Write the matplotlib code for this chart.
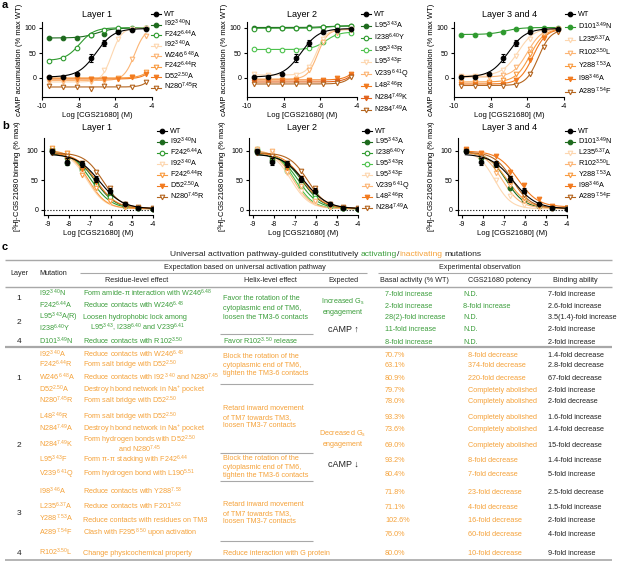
import numpy as np
import matplotlib
matplotlib.use("Agg")
import matplotlib.pyplot as plt

plt.rcParams['font.family'] = ['Liberation Sans', 'DejaVu Sans']
plt.rcParams['mathtext.default'] = 'regular'
plt.rcParams['axes.unicode_minus'] = False

W, H = 617, 561

# ---- data: cAMP accumulation (panel a) ----
camp_logc = [-9.6, -8.85, -8.1, -7.35, -6.6, -5.85, -5.1, -4.35]
wt_camp = [2, 3, 8, 40, 70, 93, 97, 99]
wt_camp_err = [1, 1, 2, 8, 6, 3, 2, 1]

l1_camp_labels = ['WT', 'I92$^{3.40}$N', 'F242$^{6.44}$A', 'I92$^{3.40}$A',
                  'W246$^{6.48}$A', 'F242$^{6.44}$R', 'D52$^{2.50}$A', 'N280$^{7.45}$R']
l1_camp = [wt_camp,
           [80, 80, 80, 86, 88, 95, 99, 100],
           [35, 40, 60, 87, 97, 100, 100, 100],
           [-8, -8, -8, -8, 17, 78, 98, 100],
           [-5, -5, -5, -5, -5, -2, 38, 85],
           [1, 1, 0, -1, -1, 0, 2, 13],
           [-2, -2, -2, -2, -2, -1, 2, 8],
           [-15, -17, -18, -22, -16, -18, -18, -8]]
# fitted 4PL: bottom, top, logEC50, hill
l1_camp_fit = [(2, 99, -7.05, 0.9), (80, 100, -7.0, 1.0), (35, 100.5, -7.95, 1.1),
               (-8, 100, -6.2, 1.6), (-5, 100, -4.95, 1.5), (0, 100, -3.55, 1.2),
               (-2, 100, -3.5, 1.2), (-18, 100, -3.6, 1.5)]

l2_camp_labels = ['WT', 'L95$^{3.43}$A', 'I238$^{6.40}$Y', 'L95$^{3.43}$R', 'L95$^{3.43}$F',
                  'V239$^{6.41}$Q', 'L48$^{2.46}$R', 'N284$^{7.49}$K', 'N284$^{7.49}$A']
l2_camp = [wt_camp,
           [101, 101, 101, 101, 102, 103, 104, 104],
           [99, 99, 100, 100, 100, 102, 105, 105],
           [58, 57, 57, 57, 60, 72, 87, 91],
           [8, 6, 5, 7, 22, 78, 94, 98],
           [-2, -2, -3, -2, 16, 72, 91, 96],
           [-3, -4, -4, -4, -3, -3, 0, 9],
           [-8, -8, -8, -9, -8, -8, -5, 5],
           [-12, -12, -12, -12, -12, -11, -10, 3]]
l2_camp_fit = [(2, 99, -7.05, 0.9), (101, 104, -5.8, 1.0), (99.5, 105, -5.5, 1.0),
               (57, 92, -5.7, 1.2), (6, 98, -6.2, 1.6), (-2, 97, -6.15, 1.6),
               (-4, 100, -3.6, 1.2), (-8, 100, -3.6, 1.2), (-12, 100, -3.7, 1.3)]

l3_camp_labels = ['WT', 'D101$^{3.49}$N', 'L235$^{6.37}$A', 'R102$^{3.50}$L',
                  'Y288$^{7.53}$A', 'I98$^{3.46}$A', 'A289$^{7.54}$F']
l3_camp = [wt_camp,
           [87, 87, 88, 93, 98, 100, 101, 101],
           [5, 5, 6, 16, 45, 78, 92, 99],
           [2, 2, 2, 6, 22, 58, 88, 98],
           [-8, -8, -8, -4, 8, 48, 83, 96],
           [-12, -12, -12, -11, -3, 36, 80, 94],
           [-15, -15, -15, -15, -13, 8, 63, 92]]
l3_camp_fit = [(2, 99, -7.05, 0.9), (87, 101, -7.2, 1.0), (5, 100, -6.5, 1.0),
               (2, 100, -6.0, 1.1), (-8, 99, -5.85, 1.1), (-12, 98, -5.7, 1.2),
               (-15, 97, -5.4, 1.3)]

# ---- data: radioligand binding (panel b) ----
bind_logc = [-8.8, -8.1, -7.4, -6.7, -6.05, -5.35, -4.7, -4.0]
wt_bind = [100, 82, 78, 52, 33, 10, 3, 1]
wt_bind_err = [4, 6, 5, 5, 4, 2, 1, 1]

l1_bind_labels = ['WT', 'I92$^{3.40}$N', 'F242$^{6.44}$A', 'I92$^{3.40}$A',
                  'F242$^{6.44}$R', 'D52$^{2.50}$A', 'N280$^{7.45}$R']
l1_bind = [wt_bind,
           [100, 80, 72, 47, 27, 8, 3, 2],
           [103, 88, 68, 42, 22, 6, 3, 2],
           [98, 97, 62, 35, 14, 5, 3, 2],
           [105, 96, 60, 37, 15, 5, 3, 2],
           [100, 86, 70, 47, 30, 8, 4, 2],
           [97, 92, 80, 64, 38, 10, 5, 3]]
# top, bottom, logIC50, hill
l1_bind_fit = [(95, 2, -6.55, 0.8), (96, 2, -6.75, 0.9), (100, 2, -6.95, 0.9),
               (100, 2, -7.15, 1.0), (102, 2, -7.1, 1.0), (97, 2, -6.7, 0.9),
               (97, 3, -6.4, 1.0)]

l2_bind_labels = ['WT', 'L95$^{3.43}$A', 'I238$^{6.40}$Y', 'L95$^{3.43}$R', 'L95$^{3.43}$F',
                  'V239$^{6.41}$Q', 'L48$^{2.46}$R', 'N284$^{7.49}$A']
l2_bind = [wt_bind,
           [98, 85, 76, 50, 30, 9, 3, 2],
           [102, 90, 72, 45, 25, 7, 3, 2],
           [104, 92, 66, 40, 20, 6, 3, 2],
           [100, 97, 62, 33, 12, 5, 3, 2],
           [104, 100, 65, 40, 16, 5, 3, 2],
           [99, 90, 72, 55, 32, 9, 4, 2],
           [97, 92, 80, 66, 38, 10, 5, 3]]
l2_bind_fit = [(95, 2, -6.55, 0.8), (95, 2, -6.65, 0.9), (99, 2, -6.85, 0.9),
               (100, 2, -7.0, 1.0), (101, 2, -7.2, 1.0), (102, 2, -7.1, 1.0),
               (97, 2, -6.6, 0.9), (97, 3, -6.4, 1.0)]

l3_bind_labels = ['WT', 'D101$^{3.49}$N', 'L235$^{6.37}$A', 'R102$^{3.50}$L',
                  'Y288$^{7.53}$A', 'I98$^{3.46}$A', 'A289$^{7.54}$F']
l3_bind = [wt_bind,
           [100, 88, 74, 37, 17, 6, 3, 3],
           [102, 96, 50, 23, 8, 4, 2, 2],
           [101, 95, 63, 42, 15, 6, 3, 3],
           [100, 92, 70, 47, 20, 7, 4, 3],
           [103, 96, 92, 64, 43, 18, 6, 4],
           [100, 90, 78, 55, 25, 8, 4, 3]]
l3_bind_fit = [(95, 2, -6.55, 0.8), (98, 3, -6.9, 1.0), (100, 2, -7.45, 1.1),
               (100, 3, -7.1, 1.0), (99, 3, -6.85, 0.9), (100, 5, -6.35, 0.9),
               (98, 3, -6.6, 1.0)]

# ---- data: table (panel c) ----
green_layer = ['1', '2', '4']
green_mut = ['I92$^{3.40}$N', 'F242$^{6.44}$A', 'L95$^{3.43}$A(R)', 'I238$^{6.40}$Y', 'D101$^{3.49}$N']
green_residue = ['Form amide-π interaction with W246$^{6.48}$',
                 'Reduce contacts with W246$^{6.48}$',
                 'Loosen hydrophobic lock among',
                 'L95$^{3.43}$, I238$^{6.40}$ and V239$^{6.41}$',
                 'Reduce contacts with R102$^{3.50}$']
green_basal = ['7-fold increase', '2-fold increase', '28(2)-fold increase', '11-fold increase', '8-fold increase']
green_potency = ['N.D.', '8-fold increase', 'N.D.', 'N.D.', 'N.D.']
green_binding = ['7-fold increase', '2.6-fold increase', '3.5(1.4)-fold increase', '2-fold increase', '2-fold increase']

orange_layer = ['1', '2', '3', '4']
orange_mut = ['I92$^{3.40}$A', 'F242$^{6.44}$R', 'W246$^{6.48}$A', 'D52$^{2.50}$A', 'N280$^{7.45}$R',
              'L48$^{2.46}$R', 'N284$^{7.49}$A', 'N284$^{7.49}$K', 'L95$^{3.43}$F', 'V239$^{6.41}$Q',
              'I98$^{3.46}$A', 'L235$^{6.37}$A', 'Y288$^{7.53}$A', 'A289$^{7.54}$F', 'R102$^{3.50}$L']
orange_residue = ['Reduce contacts with W246$^{6.48}$',
                  'Form salt bridge with D52$^{2.50}$',
                  'Reduce contacts with I92$^{3.40}$ and N280$^{7.45}$',
                  'Destroy hbond network in Na$^{+}$ pocket',
                  'Form salt bridge with D52$^{2.50}$',
                  'Form salt bridge with D52$^{2.50}$',
                  'Destroy hbond network in Na$^{+}$ pocket',
                  'Form hydrogen bonds with D52$^{2.50}$\nand N280$^{7.45}$',
                  'Form π-π stacking with F242$^{6.44}$',
                  'Form hydrogen bond with L190$^{5.51}$',
                  'Reduce contacts with Y288$^{7.53}$',
                  'Reduce contacts with F201$^{5.62}$',
                  'Reduce contacts with residues on TM3',
                  'Clash with F295$^{8.50}$ upon activation',
                  'Change physicochemical property']
orange_basal = ['70.7%', '63.1%', '80.9%', '79.7%', '78.0%', '93.3%', '73.6%', '69.0%',
                '93.2%', '80.4%', '71.8%', '71.1%', '102.6%', '76.0%', '80.0%']
orange_potency = ['8-fold decrease', '374-fold decrease', '220-fold decrease', 'Completely abolished',
                  'Completely abolished', 'Completely abolished', 'Completely abolished',
                  'Completely abolished', '8-fold decrease', '7-fold decrease', '23-fold decrease',
                  '4-fold decrease', '16-fold decrease', '60-fold decrease', '10-fold decrease']
orange_binding = ['1.4-fold decrease', '2.8-fold decrease', '67-fold decrease', '2-fold increase',
                  '2-fold decrease', '1.6-fold increase', '1.4-fold decrease', '15-fold decrease',
                  '1.4-fold increase', '5-fold increase', '2.5-fold decrease', '1.5-fold increase',
                  '2-fold increase', '4-fold increase', '9-fold increase']
helix_green = ['Favor the rotation of the\ncytoplasmic end of TM6,\nloosen the TM3-6 contacts',
               'Favor R102$^{3.50}$ release']
helix_orange = ['Block the rotation of the\ncytoplasmic end of TM6,\ntighten the TM3-6 contacts',
                'Retard inward movement\nof TM7 towards TM3,\nloosen TM3-7 contacts',
                'Block the rotation of the\ncytoplasmic end of TM6,\ntighten the TM3-6 contacts',
                'Retard inward movement\nof TM7 towards TM3,\nloosen TM3-7 contacts',
                'Reduce interaction with G protein']

# ---- styles ----
BLACK = '#000000'
DKGREEN = '#1d6a1d'
GREEN = '#2e9a2e'
LTGREEN = '#4cc24c'
PALE = '#fdd7b0'
LTOR = '#fcb575'
ORANGE = '#f99b40'
DKOR = '#f27a1e'
REDOR = '#e2621b'
BROWN = '#b4651f'
TXT_G = '#3c9e3c'
TXT_O = '#f5a23a'
TXT_K = '#222222'

# (color, marker, filled)
s_wt = (BLACK, 'o', True)
l1_styles = [s_wt, (DKGREEN, 'o', True), (GREEN, 'o', False), (PALE, 'v', False),
             (LTOR, 'v', False), (ORANGE, 'v', False), (DKOR, 'v', True), (BROWN, 'v', False)]
l2_styles = [s_wt, (DKGREEN, 'o', True), (GREEN, 'o', False), (LTGREEN, 'o', False),
             (PALE, 'v', False), (LTOR, 'v', False), (DKOR, 'v', True), (REDOR, 'v', True),
             (BROWN, 'v', False)]
l3_styles = [s_wt, (GREEN, 'o', True), (PALE, 'v', False), (LTOR, 'v', False),
             (ORANGE, 'v', False), (DKOR, 'v', True), (BROWN, 'v', False)]
l1b_styles = [s_wt, (DKGREEN, 'o', True), (GREEN, 'o', False), (PALE, 'v', False),
              (ORANGE, 'v', False), (DKOR, 'v', True), (BROWN, 'v', False)]
l2b_styles = [s_wt, (DKGREEN, 'o', True), (GREEN, 'o', False), (LTGREEN, 'o', False),
              (PALE, 'v', False), (LTOR, 'v', False), (DKOR, 'v', True), (BROWN, 'v', False)]
l3b_styles = [s_wt, (DKGREEN, 'o', True), (PALE, 'v', False), (LTOR, 'v', False),
              (ORANGE, 'v', False), (DKOR, 'v', True), (BROWN, 'v', False)]

MS = 3.3
fig = plt.figure(figsize=(W / 100, H / 100), dpi=100)


def px_axes(x0, x1, y0, y1):
    return fig.add_axes([x0 / W, 1 - y1 / H, (x1 - x0) / W, (y1 - y0) / H])


def style_ax(ax):
    for s in ['top', 'right']:
        ax.spines[s].set_visible(False)
    for s in ['left', 'bottom']:
        ax.spines[s].set_linewidth(0.8)
    ax.tick_params(length=2.5, width=0.8, labelsize=5, pad=1.5)


def draw_panel(ax, logc, values, fits, styles, kind, err):
    xs = np.linspace(logc[0] - 0.05, logc[-1] + 0.02, 200)
    order = list(range(1, len(values))) + [0]
    for i in order:
        c, m, f = styles[i]
        if kind == 'camp':
            b, t, ec, h = fits[i]
            ys = b + (t - b) / (1 + 10 ** ((ec - xs) * h))
        else:
            t, b, ec, h = fits[i]
            ys = b + (t - b) / (1 + 10 ** ((xs - ec) * h))
        z = 5 if i == 0 else 3
        ax.plot(xs, ys, color=c, lw=0.8, zorder=z)
        ax.errorbar(logc, values[i], yerr=err if i == 0 else None, fmt=m, color=c,
                    ms=MS, mew=0.8, mfc=c if f else 'white', elinewidth=0.8,
                    capsize=1.2, zorder=z + 1)
    style_ax(ax)


# panel a
a_rects = [(42, 152, 22, 97), (247, 357, 22, 97), (454, 564, 22, 97)]
a_sets = [(l1_camp, l1_camp_fit, l1_styles), (l2_camp, l2_camp_fit, l2_styles),
          (l3_camp, l3_camp_fit, l3_styles)]
for rect, (vals, fits, sts) in zip(a_rects, a_sets):
    ax = px_axes(*rect)
    draw_panel(ax, camp_logc, vals, fits, sts, 'camp', wt_camp_err)
    ax.set_xlim(-10, -4)
    ax.set_ylim(-38, 112)
    ax.set_xticks([-10, -8, -6, -4])
    ax.set_yticks([0, 50, 100])
    ax.set_xlabel('Log [CGS21680] (M)', fontsize=5.5, labelpad=2)
    ax.set_ylabel('cAMP accumulation (% max WT)', fontsize=5.5, labelpad=1)

# panel b
b_rects = [(44, 153, 138, 215), (249, 358, 138, 215), (458, 567, 138, 215)]
b_sets = [(l1_bind, l1_bind_fit, l1b_styles), (l2_bind, l2_bind_fit, l2b_styles),
          (l3_bind, l3_bind_fit, l3b_styles)]
for rect, (vals, fits, sts) in zip(b_rects, b_sets):
    ax = px_axes(*rect)
    ax.axhline(0, color='k', ls=':', lw=0.8, zorder=1)
    draw_panel(ax, bind_logc, vals, fits, sts, 'bind', wt_bind_err)
    ax.set_xlim(-9.2, -4)
    ax.set_ylim(-8.5, 122)
    ax.set_xticks([-9, -8, -7, -6, -5, -4])
    ax.set_yticks([0, 50, 100])
    ax.set_xlabel('Log [CGS21680] (M)', fontsize=5.5, labelpad=2)
    ax.set_ylabel('[$^{3}$H]-CGS21680 binding (% max)', fontsize=5.5, labelpad=1)

# overlay in pixel coordinates for legends, titles and table
tax = fig.add_axes([0, 0, 1, 1])
tax.set_xlim(0, W)
tax.set_ylim(H, 0)
tax.axis('off')


def legend(xm, y0, step, styles, labels):
    for k, ((c, m, f), lab) in enumerate(zip(styles, labels)):
        y = y0 + k * step
        tax.plot([xm - 5, xm + 5], [y, y], color=c, lw=0.8)
        tax.plot([xm], [y], marker=m, color=c, ms=MS, mew=0.8, mfc=c if f else 'white')
        tax.text(xm + 8, y + 2, lab, fontsize=5.2, va='baseline')


legend(156, 14, 10.5, l1_styles, l1_camp_labels)
legend(366, 14, 12, l2_styles, l2_camp_labels)
legend(570, 14, 13, l3_styles, l3_camp_labels)
legend(162, 131, 11, l1b_styles, l1_bind_labels)
legend(367, 131, 11, l2b_styles, l2_bind_labels)
legend(570, 131, 11, l3b_styles, l3_bind_labels)

for x, t in [(97, 'Layer 1'), (302, 'Layer 2'), (510, 'Layer 3 and 4')]:
    tax.text(x, 14, t, fontsize=6.5, ha='center', va='center')
    tax.text(x, 127, t, fontsize=6.5, ha='center', va='center')
for y, l in [(5, 'a'), (126, 'b'), (247, 'c')]:
    tax.text(2, y, l, fontsize=8, fontweight='bold', va='center')

# table title in pieces
renderer = fig.canvas.get_renderer()
parts = [('Universal activation pathway-guided constitutively', TXT_K, 2.3),
         ('activating', TXT_G, 0), ('/', TXT_K, 0), ('inactivating', TXT_O, 2.3),
         ('mutations', TXT_K, 0)]
xp = 170
for s, c, gap in parts:
    t = tax.text(xp, 256, s, color=c, fontsize=6.1, va='baseline')
    bb = t.get_window_extent(renderer)
    xp = tax.transData.inverted().transform((bb.x1, bb.y0))[0] + gap

TS = 5.2
GRAY = '#a8a8a8'


def tt(x, y, s, color=TXT_K, ha='left', size=TS):
    tax.text(x, y + 2, s, color=color, ha=ha, va='baseline', fontsize=size)


def hline(x0, x1, y, lw=0.8, color=GRAY):
    tax.plot([x0, x1], [y, y], color=color, lw=lw, solid_capstyle='butt')


hline(5, 612, 260, 1.0)
hline(80, 367, 273)
hline(378, 612, 273)
hline(5, 612, 287, 1.0)
hline(5, 612, 347, 1.6)
hline(5, 612, 560, 1.2)
for y in [334, 384, 453, 481, 541]:
    hline(220, 313, y, 0.8)

tt(245, 267, 'Expectation based on universal activation pathway', ha='center')
tt(480, 267, 'Experimental observation', ha='center')
tt(19, 273, 'Layer', ha='center')
tt(39, 273, 'Mutation')
tt(137, 280, 'Residue-level effect', ha='center')
tt(270, 280, 'Helix-level effect', ha='center')
tt(343, 280, 'Expected', ha='center')
tt(380, 280, 'Basal activity (% WT)')
tt(468, 280, 'CGS21680 potency')
tt(553, 280, 'Binding ability')

# green rows
g_y = [294, 306, 317, 329, 342]
for i, y in enumerate(g_y):
    tt(39, y, green_mut[i], TXT_G)
    tt(90 if i == 3 else 83, y, green_residue[i], TXT_G)
    tt(385, y, green_basal[i], TXT_G)
    tt(463, y, green_potency[i], TXT_G)
    tt(548, y, green_binding[i], TXT_K)
for lab, y in zip(green_layer, [298, 322, 341]):
    tt(19, y, lab, TXT_K, ha='center', size=6)
for j, line in enumerate(helix_green[0].split('\n')):
    tt(223, 298 + 9.5 * j, line, TXT_G)
tt(223, 342, helix_green[1], TXT_G)
tt(343, 302, 'Increased G$_{s}$', TXT_G, ha='center')
tt(343, 312, 'engagement', TXT_G, ha='center')
tt(343, 330, 'cAMP ↑', TXT_K, ha='center', size=6.5)

# orange rows
o_y = [355, 365, 378, 390, 401, 417, 429, 445, 460, 474, 492, 507, 520, 534, 553]
for i, y in enumerate(o_y):
    tt(39, y, orange_mut[i], TXT_O)
    lines = orange_residue[i].split('\n')
    if len(lines) == 1:
        tt(83, y, lines[0], TXT_O)
    else:
        tt(83, y - 5, lines[0], TXT_O)
        tt(118, y + 5, lines[1], TXT_O)
    tt(385, y, orange_basal[i], TXT_O)
    tt(468, y, orange_potency[i], TXT_O)
    tt(548, y, orange_binding[i], TXT_K)
for lab, y in zip(orange_layer, [378, 445, 513, 553]):
    tt(19, y, lab, TXT_K, ha='center', size=6)
for block, y0 in zip(helix_orange, [356, 408, 458, 504, 553]):
    for j, line in enumerate(block.split('\n')):
        tt(223, y0 + 8.6 * j, line, TXT_O)
tt(343, 434, 'Decreased G$_{s}$', TXT_O, ha='center')
tt(343, 444, 'engagement', TXT_O, ha='center')
tt(343, 465, 'cAMP ↓', TXT_K, ha='center', size=6.5)

fig.savefig('out.png', dpi=100)
